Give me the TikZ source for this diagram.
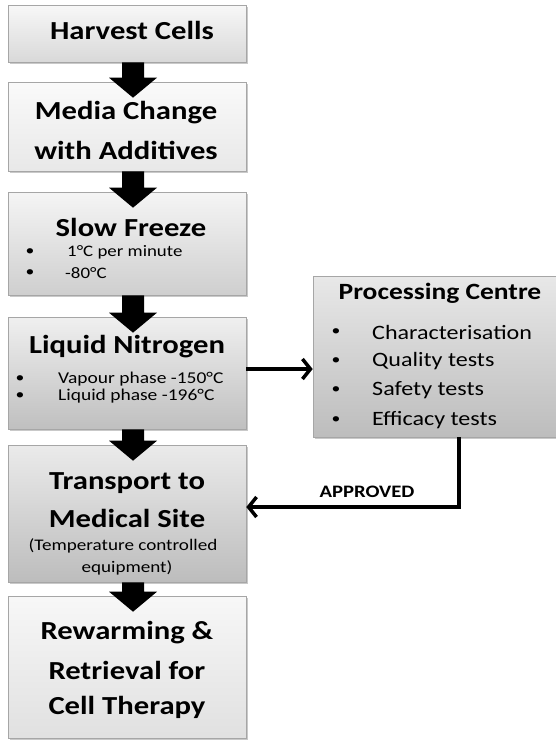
\documentclass[tikz,border=0pt]{standalone}
\usepackage{fontspec}
\setmainfont[FakeStretch=1.18]{Carlito}
\usetikzlibrary{calc,arrows.meta,shadows}
\tikzset{
  box/.style={draw=black!35, line width=0.6pt, rectangle, inner sep=0pt,
    drop shadow={shadow xshift=1.5pt, shadow yshift=-1.5pt, fill=black!35, opacity=0.6}},
  ttl/.style={font=\fontsize{26}{28}\selectfont\bfseries, inner sep=0pt, anchor=center},
  blt/.style={font=\fontsize{16}{18}\selectfont, inner sep=0pt, anchor=west},
  lblt/.style={font=\fontsize{16.5}{18}\selectfont, inner sep=0pt, anchor=west},
  pblt/.style={font=\fontsize{20.4}{22}\selectfont, inner sep=0pt, anchor=west},
  dot/.style={font=\fontsize{15}{18}\selectfont, inner sep=0pt, anchor=center},
  conn/.style={line width=3.5pt, -{Straight Barb[length=8pt,width=20pt,line width=3.5pt]}},
}
\newcommand{\blockarrow}[2]{%
  \fill ($(#1.south)+(-5,0)$) -- ($(#2.north)+(-5,-4)$) -- ($(#2.north)+(-18,-4)$)
    -- ($(#2.north)+(6,16)$) -- ($(#2.north)+(30,-4)$) -- ($(#2.north)+(17,-4)$)
    -- ($(#1.south)+(17,0)$) -- cycle;}
\begin{document}
\begin{tikzpicture}[x=1pt,y=-1pt]
\useasboundingbox (0,0) rectangle (556,740);
\fill[white] (0,0) rectangle (556,740);
% boxes
\node[box, top color=black!3, bottom color=black!15, minimum width=238pt, minimum height=57pt] (h) at (127,33.5) {};
\node[box, top color=black!2, bottom color=black!9, minimum width=238pt, minimum height=89pt] (m) at (127,126.5) {};
\node[box, top color=black!4, bottom color=black!19, minimum width=238pt, minimum height=103pt] (s) at (127,243.5) {};
\node[box, top color=black!6, bottom color=black!25, minimum width=238pt, minimum height=112pt] (l) at (127,373) {};
\node[box, top color=black!8, bottom color=black!26, minimum width=238pt, minimum height=137pt] (t) at (127,513.5) {};
\node[box, top color=black!3, bottom color=black!12, minimum width=238pt, minimum height=142pt] (r) at (127,667) {};
\node[box, top color=black!9, bottom color=black!26, minimum width=250pt, minimum height=161pt] (p) at (438,356.5) {};
% block arrows
\blockarrow{h}{m}
\blockarrow{m}{s}
\blockarrow{s}{l}
\blockarrow{l}{t}
\blockarrow{t}{r}
% texts
\node[ttl] (th) at (132,30) {Harvest Cells};
\node[ttl] (tm1) at (126,113) {Media Change};
\node[ttl] (tm2) at (126,150) {with Additives};
\node[ttl] (ts) at (131,227) {Slow Freeze};
\node[dot] (ds1) at (30,252) {•};
\node[blt] (bs1) at (67,252) {1°C per minute};
\node[dot] (ds2) at (30,273) {•};
\node[blt] (bs2) at (65,273) {-80°C};
\node[ttl] (tl) at (127,347) {Liquid Nitrogen};
\node[dot] (dl1) at (20,379) {•};
\node[lblt] (bl1) at (58,379) {Vapour phase -150°C};
\node[dot] (dl2) at (20,396) {•};
\node[lblt] (bl2) at (58,396) {Liquid phase -196°C};
\node[font=\fontsize{23.3}{25}\selectfont\bfseries, inner sep=0pt] (tp) at (440,293) {Processing Centre};
\node[dot] (dp1) at (336,332) {•};
\node[pblt] (bp1) at (372,332) {Characterisation};
\node[dot] (dp2) at (336,361) {•};
\node[pblt] (bp2) at (372,361) {Quality tests};
\node[dot] (dp3) at (336,390) {•};
\node[pblt] (bp3) at (372,390) {Safety tests};
\node[dot] (dp4) at (336,420) {•};
\node[pblt] (bp4) at (372,420) {Efficacy tests};
\node[ttl] (tt1) at (127,483) {Transport to};
\node[ttl] (tt2) at (127,518) {Medical Site};
\node[font=\fontsize{16.2}{18}\selectfont, inner sep=0pt] (tt3) at (123,546) {(Temperature controlled};
\node[font=\fontsize{16.2}{18}\selectfont, inner sep=0pt] (tt4) at (127,568) {equipment)};
\node[ttl] (tr1) at (127,633) {Rewarming \&};
\node[ttl] (tr2) at (127,670) {Retrieval for};
\node[ttl] (tr3) at (127,707) {Cell Therapy};
% connectors
\draw[conn] (l.east |- 0,369) -- (p.west |- 0,369);
\coordinate (ap) at (459,507);
\draw[conn] (p.south -| ap) -- (ap) -- (t.east |- ap);
\node[font=\fontsize{17.5}{19}\selectfont\bfseries, inner sep=0pt] (approved) at (367,492) {APPROVED};
\end{tikzpicture}
\end{document}
